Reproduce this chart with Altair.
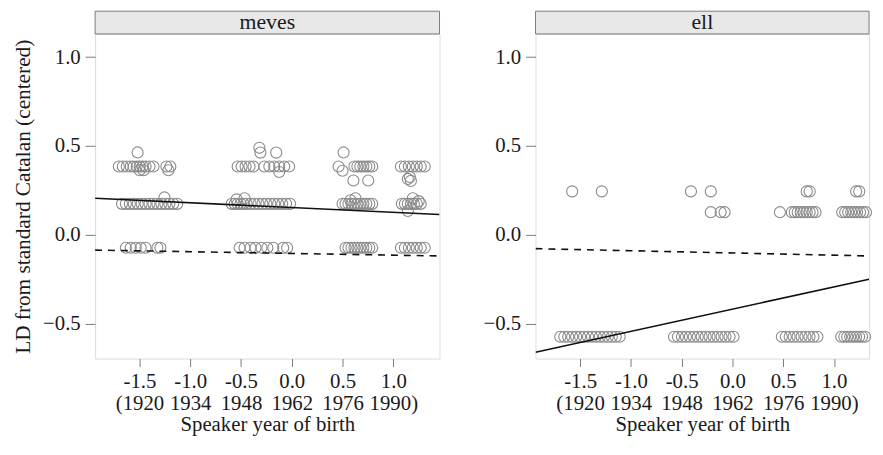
import altair as alt
import pandas as pd

# ---------------- data ----------------
panels = ["meves", "ell"]

# meves: standardized year of birth (x) and LD (y)
meves_x = [
    # row ~0.385
    -1.703, -1.664, -1.625, -1.586, -1.557, -1.527, -1.498, -1.469, -1.440, -1.401, -1.362, -1.235, -1.196,
    -0.533, -0.494, -0.455, -0.416, -0.377, -0.270, -0.221, -0.173, -0.124, -0.075, -0.026,
    0.461, 0.617, 0.646, 0.675, 0.705, 0.734, 0.763, 0.792,
    1.075, 1.114, 1.153, 1.192, 1.231, 1.270, 1.309,
    # scattered high values
    -1.518, -1.498, -1.459, -1.215, -0.319, -0.309, -0.153, -0.124,
    0.510, 0.500, 0.607, 0.753, 1.143, 1.173, 1.163,
    # row ~0.175
    -1.672, -1.634, -1.595, -1.556, -1.517, -1.478, -1.440, -1.401, -1.362, -1.323, -1.284, -1.245, -1.206, -1.167, -1.128, -1.254,
    -0.592, -0.562, -0.533, -0.504, -0.475, -0.445, -0.406, -0.367, -0.328, -0.289, -0.250, -0.211, -0.173, -0.134, -0.095, -0.056, -0.017, -0.543, -0.465,
    0.500, 0.529, 0.558, 0.588, 0.617, 0.646, 0.675, 0.705, 0.734, 0.763, 0.792, 0.578, 0.627,
    1.084, 1.114, 1.143, 1.173, 1.202, 1.231, 1.270, 1.192, 1.143, 1.250,
    # row ~-0.07
    -1.634, -1.586, -1.537, -1.488, -1.440, -1.323, -1.294,
    -0.514, -0.465, -0.406, -0.358, -0.299, -0.241, -0.182, -0.085, -0.046,
    0.529, 0.558, 0.588, 0.617, 0.646, 0.675, 0.705, 0.734, 0.763, 0.792,
    1.075, 1.114, 1.153, 1.192, 1.231, 1.270, 1.309,
]
meves_y = (
    [0.385] * 39
    + [0.464, 0.364, 0.364, 0.364, 0.490, 0.463, 0.463, 0.354,
       0.464, 0.361, 0.306, 0.306, 0.315, 0.304, 0.326]
    + [0.175] * 15 + [0.211]
    + [0.175] * 17 + [0.200, 0.206]
    + [0.175] * 11 + [0.195, 0.206]
    + [0.175] * 7 + [0.206, 0.135, 0.190]
    + [-0.072] * 33
)

ell_x = [
    # row ~0.245
    -1.578, -1.286, -0.408, -0.213, 0.732, 0.761, 1.219, 1.249,
    # row ~0.128
    -0.213, -0.116, -0.077, 0.468, 0.585, 0.614, 0.643, 0.673, 0.702, 0.732, 0.761, 0.790, 0.819,
    1.082, 1.111, 1.141, 1.170, 1.199, 1.228, 1.257, 1.287, 1.316,
    # row ~-0.572
    -1.695, -1.656, -1.617, -1.578, -1.539, -1.500, -1.461, -1.422, -1.383, -1.344, -1.305, -1.266, -1.227, -1.188, -1.149, -1.110,
    -0.575, -0.536, -0.497, -0.458, -0.419, -0.380, -0.341, -0.302, -0.263, -0.224, -0.185, -0.146, -0.107, -0.068, -0.028, 0.011,
    0.487, 0.526, 0.564, 0.603, 0.642, 0.681, 0.720, 0.759, 0.798, 0.837,
    1.072, 1.102, 1.131, 1.160, 1.189, 1.218, 1.248, 1.277, 1.306,
]
ell_y = [0.245] * 8 + [0.128] * 22 + [-0.572] * 51

# fitted lines: endpoints (x, y) for solid (word) and dashed (overall) lines
meves_solid_x = [-1.937, 1.455]
meves_solid_y = [0.206, 0.115]
meves_dash_x = [-1.937, 1.455]
meves_dash_y = [-0.085, -0.118]
ell_solid_x = [-1.939, 1.346]
ell_solid_y = [-0.659, -0.249]
ell_dash_x = [-1.939, 1.346]
ell_dash_y = [-0.077, -0.118]

x_ticks = [-1.5, -1.0, -0.5, 0.0, 0.5, 1.0]
x_labels_top = ["-1.5", "-1.0", "-0.5", "0.0", "0.5", "1.0"]
x_labels_bottom = ["(1920", "1934", "1948", "1962", "1976", "1990)"]
y_ticks = [-0.5, 0.0, 0.5, 1.0]

# ---------------- styling ----------------
FONT = "Liberation Serif"
TEXT = "#1a1a1a"
FRAME = "#7a7a7a"
YDOM = [-0.695, 1.13]
H = 328
FS = 21
STRIP_H = 23

label_expr = (
    "[" + ",".join(f"['{a}','{b}']" for a, b in zip(x_labels_top, x_labels_bottom)) + "]"
    + "[indexof([" + ",".join(str(v) for v in x_ticks) + "], datum.value)]"
)


def panel(name, xs, ys, sx, sy, dx, dy, width, xdom, ytitle):
    pts = pd.DataFrame({"x": xs, "y": ys})
    xscale = alt.Scale(domain=xdom, nice=False, zero=False)
    yscale = alt.Scale(domain=YDOM, nice=False, zero=False)
    xaxis = alt.Axis(values=x_ticks, labelExpr=label_expr, title="Speaker year of birth",
                     grid=False, domain=False, tickSize=8, tickColor=FRAME,
                     labelFont=FONT, labelFontSize=FS, labelColor=TEXT, labelPadding=4,
                     labelLineHeight=22, labelFlush=False,
                     titleFont=FONT, titleFontSize=FS, titleFontWeight="normal", titleColor=TEXT,
                     titlePadding=1)
    yaxis_kwargs = dict(values=y_ticks, format=".1f", grid=False, domain=False, tickSize=10,
                        tickColor=FRAME, labelFont=FONT, labelFontSize=FS, labelColor=TEXT,
                        labelPadding=5, titleFont=FONT, titleFontSize=21.5,
                        titleFontWeight="normal", titleColor=TEXT, titlePadding=8)
    if ytitle:
        yaxis = alt.Axis(title=ytitle, **yaxis_kwargs)
    else:
        yaxis = alt.Axis(title=None, **yaxis_kwargs)

    points = alt.Chart(pts).mark_point(
        shape="circle", size=125, filled=False, color="#8a8a8a", strokeWidth=1.1, opacity=1
    ).encode(x=alt.X("x:Q", scale=xscale, axis=xaxis), y=alt.Y("y:Q", scale=yscale, axis=yaxis))

    solid = alt.Chart(pd.DataFrame({"x": sx, "y": sy})).mark_line(
        color="#111111", strokeWidth=1.6, clip=True
    ).encode(x=alt.X("x:Q", scale=xscale), y=alt.Y("y:Q", scale=yscale))
    dashed = alt.Chart(pd.DataFrame({"x": dx, "y": dy})).mark_line(
        color="#111111", strokeWidth=1.6, strokeDash=[7, 6], clip=True
    ).encode(x=alt.X("x:Q", scale=xscale), y=alt.Y("y:Q", scale=yscale))

    strip_df = pd.DataFrame({"label": [name]})
    strip = alt.Chart(strip_df).mark_rect(fill="#e8e8e8", stroke=FRAME, strokeWidth=1).encode(
        x=alt.value(0), x2=alt.value(width), y=alt.value(-STRIP_H), y2=alt.value(0)
    )
    strip_text = alt.Chart(strip_df).mark_text(
        font=FONT, fontSize=22, color=TEXT, baseline="middle", align="center"
    ).encode(x=alt.value(width / 2), y=alt.value(-12), text="label:N")

    return alt.layer(points, solid, dashed, strip, strip_text).properties(width=width, height=H)


left = panel("meves", meves_x, meves_y, meves_solid_x, meves_solid_y, meves_dash_x, meves_dash_y,
             348, [-1.937, 1.455], "LD from standard Catalan (centered)")
right = panel("ell", ell_x, ell_y, ell_solid_x, ell_solid_y, ell_dash_x, ell_dash_y,
              337, [-1.939, 1.346], None)

chart = alt.hconcat(left, right, spacing=42).properties(
    padding={"left": 4, "top": 0, "right": 0, "bottom": 0}
).configure_view(stroke=FRAME, strokeWidth=1).configure(background="white")

chart.save("out.html", embed_options={"renderer": "svg", "actions": False})
